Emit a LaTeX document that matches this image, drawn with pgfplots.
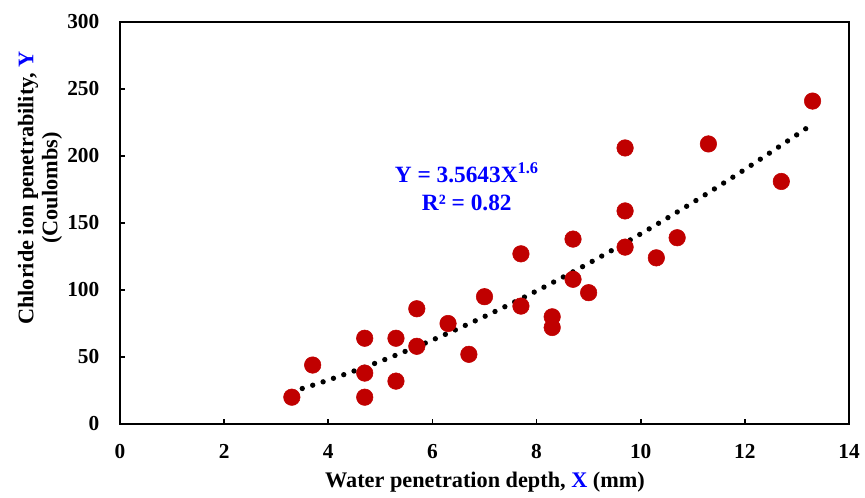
\documentclass[border=0pt]{standalone}
\usepackage{fontspec}
\setmainfont{Liberation Serif}
\usepackage{pgfplots}
\pgfplotsset{compat=1.18}
\definecolor{ptred}{HTML}{C00000}
\definecolor{lblue}{HTML}{0000FF}
\begin{document}
\begin{tikzpicture}
\begin{axis}[
  at={(0,0)}, anchor=south west,
  scale only axis, width=546.75pt, height=301.5pt,
  xmin=0, xmax=14, ymin=0, ymax=300,
  xtick={0,2,...,14}, ytick={0,50,...,300},
  axis line style={line width=1.5pt},
  tick style={line width=1.2pt, black},
  major tick length=4pt,
  tick align=inside,
  xtick pos=bottom, ytick pos=left,
  ticklabel style={font=\fontsize{16}{19}\selectfont\bfseries},
  /pgf/number format/assume math mode=true,
  xticklabel style={yshift=-12pt},
  yticklabel style={xshift=-12pt},
  xlabel={Water penetration depth, \textcolor{lblue}{X} (mm)},
  ylabel={Chloride ion penetrability, \textcolor{lblue}{Y}\\(Coulombs)},
  label style={font=\fontsize{16.7}{18}\selectfont\bfseries},
  xlabel style={at={(axis description cs:0.5007,-0.144)}, anchor=center},
  ylabel style={at={(axis description cs:-0.1097,0.587)}, anchor=center, rotate=0, align=center},
  clip=false,
]
\addplot[only marks, mark=*, mark size=6.2pt, color=ptred, mark options={fill=ptred, draw=ptred}] coordinates {
(3.3,20) (3.7,44) (4.7,64) (4.7,38) (4.7,20) (5.3,64) (5.3,32)
(5.7,86) (5.7,58) (6.3,75) (6.7,52) (7.0,95) (7.7,127) (7.7,88)
(8.3,80) (8.3,72) (8.7,138) (8.7,108) (9.0,98) (9.7,206) (9.7,159)
(9.7,132) (10.3,124) (10.7,139) (11.3,209) (12.7,181) (13.3,241)
};
\addplot[black, smooth, line width=4pt, line cap=round, dash pattern=on 0pt off 8.2pt] coordinates {
(3.3,24.08) (4,32.76) (5,46.81) (6,62.67) (7,80.20) (8,99.30) (9,119.9)
(10,141.9) (11,165.3) (12,190.0) (13,215.9) (13.3,223.9)
};
\node[align=center, text=lblue, font=\fontsize{17.5}{21}\selectfont\bfseries] at (axis cs:6.66,177) {Y = 3.5643X\textsuperscript{1.6}\\R² = 0.82};
\end{axis}
\pgfresetboundingbox
\path[use as bounding box] (-90pt,-54.75pt) rectangle (558.75pt,318pt);
\end{tikzpicture}
\end{document}
